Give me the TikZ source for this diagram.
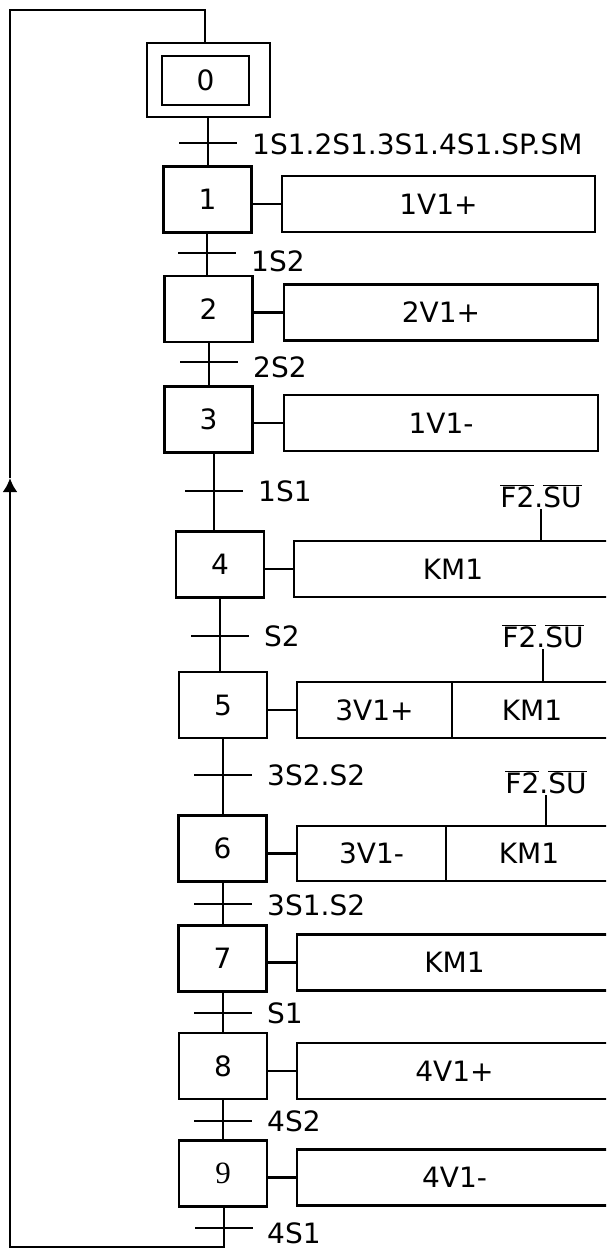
\documentclass[tikz,border=0pt]{standalone}
\usepackage{fontspec}
\setmainfont{DejaVu Sans}
\newfontfamily\ninefont{Liberation Serif}
\usepackage{tikz}
\usetikzlibrary{arrows.meta}

\tikzset{
  etape/.style={draw, line width=2.7pt, minimum width=88pt, minimum height=66pt, inner sep=0pt},
  action/.style={draw, line width=2.7pt, minimum height=56pt, inner sep=0pt, outer sep=0pt},
  lien/.style={line width=2.7pt},
  recept/.style={anchor=west, inner sep=0pt},
  cond/.style={anchor=south, inner sep=1pt},
}

\begin{document}
\begin{tikzpicture}[x=1pt, y=-1pt, font=\fontsize{28}{31}\selectfont]
\useasboundingbox (0,0) rectangle (606,1251);
\clip (0,0) rectangle (606,1251);

% initial step
\node[etape, minimum width=123pt, minimum height=74pt] (s0) at (208.5,80) {};
\node[etape, minimum width=87pt, minimum height=49pt] (s0i) at (205.5,80.5) {0};

% steps
\foreach \n/\x/\y in {1/207.5/199.5, 2/208.5/309, 3/208.5/419.5, 4/220/564.5,
    5/223/705, 6/222.5/848.5, 7/222.5/958.5, 8/223/1066}
  \node[etape] (s\n) at (\x,\y) {\n};
\node[etape] (s9) at (223,1173.5) {\ninefont\fontsize{31}{33}\selectfont 9};

% actions
\foreach \n/\x/\y/\w/\txt in {1/438.5/204/313/1V1+, 2/441/312.5/314/2V1+,
    3/441/423/314/1V1-, 4/453/569/318/KM1, 7/454.5/962.5/315/KM1,
    8/454.5/1071/315/4V1+, 9/454.5/1177.5/315/4V1-}
  \node[action, minimum width=\w pt] (a\n) at (\x,\y) {\txt};
\node[action, minimum width=155pt] (a5) at (374.5,710) {3V1+};
\node[action, anchor=west, minimum width=160pt] (a5b) at (a5.east) {KM1};
\node[action, minimum width=149pt, minimum height=55pt] (a6) at (371.5,853.5) {3V1-};
\node[action, anchor=west, minimum width=166pt, minimum height=55pt] (a6b) at (a6.east) {KM1};
\foreach \n in {1,...,9}
  \draw[lien] (s\n.east |- a\n.west) -- (a\n.west);

% conditions
\foreach \n/\x/\y in {4/541/509, 5/543/649, 6/546/795} {
  \node[cond] (c\n) at (\x,\y) {$\overline{\mbox{F2}}\mbox{.}\overline{\mbox{SU}}$};
  \draw[line width=1.2pt] (c\n.south) -- (c\n.south |- a\n.north);
}

% transitions
\foreach \a/\b/\x/\y/\ly/\txt in {0/1/208/143/144/1S1.2S1.3S1.4S1.SP.SM,
    1/2/207/253/261/1S2, 2/3/209/362/367/2S2, 3/4/214/491/491/1S1,
    4/5/220/636/636/S2, 5/6/223/775/775/3S2.S2, 6/7/223/904/905/3S1.S2,
    7/8/223/1013/1013/S1, 8/9/223/1121/1121/4S2} {
  \coordinate (t\a) at (\x,\y);
  \draw[lien] (s\a.south -| t\a) -- (s\b.north -| t\a);
  \draw[lien] ([xshift=-29pt]t\a) -- ([xshift=29pt]t\a);
  \node[recept] (r\a) at (\x+44,\ly) {\txt};
}

% return to initial step
\coordinate (t9) at (224,1228);
\coordinate (b9) at (224,1247);
\coordinate (bl) at (10,1247);
\coordinate (fl) at (10,478);
\coordinate (tl) at (10,10);
\coordinate (tr) at (205,10);
\draw[lien] ([xshift=-29pt]t9) -- ([xshift=29pt]t9);
\node[recept] (r9) at (267,1233) {4S1};
\draw[lien, -{Latex[length=14pt, width=15pt]}] (s9.south -| t9) -- (b9) -- (bl) -- (fl);
\draw[lien] (fl) -- (tl) -- (tr) -- (tr |- s0.north);
\end{tikzpicture}
\end{document}
